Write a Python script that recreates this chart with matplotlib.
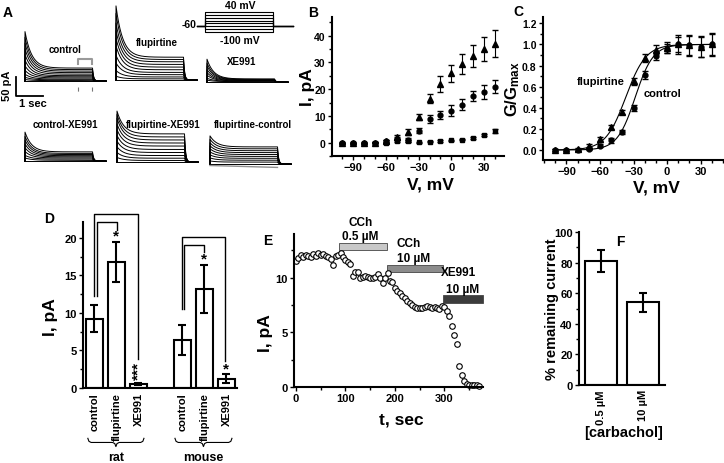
import matplotlib.pyplot as plt
import numpy as np
from matplotlib.ticker import MultipleLocator

plt.rcParams['font.family'] = ['Liberation Sans', 'DejaVu Sans']
plt.rcParams['font.weight'] = 'bold'
plt.rcParams['axes.labelweight'] = 'bold'
plt.rcParams['mathtext.fontset'] = 'custom'
plt.rcParams['mathtext.rm'] = 'Liberation Sans:bold'
plt.rcParams['mathtext.it'] = 'Liberation Sans:bold'
plt.rcParams['mathtext.default'] = 'rm'

# ---- A: current families, peak and steady-state amplitude of each sweep (pA)
ctl_peak = [0, 4, 10, 18, 28, 40, 55, 70, 85, 100, 115, 130]
ctl_ss = [0, 1, 3, 5, 8, 11, 14, 18, 22, 26, 30, 34]
flu_peak = [0, 10, 25, 45, 65, 90, 110, 130, 150, 175, 195]
flu_ss = [0, 3, 8, 14, 20, 27, 34, 41, 48, 54, 60]
xe_peak = [0, 5, 10, 18, 25, 33, 42, 50, 60]
xe_ss = [0, 1, 2, 3, 4, 5, 6, 7, 8]
ctlxe_peak = [0, 8, 15, 25, 35, 45, 55, 65, 76]
ctlxe_ss = [0, 2, 5, 8, 11, 14, 17, 20, 24]
fluxe_peak = [0, 12, 25, 40, 55, 70, 85, 100, 115, 125, 134]
fluxe_ss = [0, 4, 10, 17, 25, 33, 42, 50, 58, 66, 74]
fluctl_peak = [0, 8, 16, 24, 32, 40, 48, 56, 65, 74]
fluctl_ss = [0, 5, 10, 15, 20, 25, 30, 35, 40, 45]
step_dur = 2.5      # s
tau_inact = 0.25    # s
protocol_levels = [-100, -80, -60, -40, -20, 0, 20, 40]  # mV
holding = -60

# ---- B: I-V
volts = [-100, -90, -80, -70, -60, -50, -40, -30, -20, -10, 0, 10, 20, 30, 40]
iv_flu = [0, 0, 0, 0, 0.5, 2, 4, 9.5, 16.5, 22, 26, 29.5, 32.5, 35, 37]
iv_flu_err = [0.3, 0.3, 0.3, 0.3, 0.5, 0.8, 1, 1.2, 1.8, 3, 3.2, 3.8, 4.2, 4.5, 5]
iv_ctl = [-0.2, -0.2, -0.2, 0, 0.5, 1.5, 1.0, 4.5, 9, 10.5, 12, 14.2, 17.5, 19, 21]
iv_ctl_err = [0.2, 0.2, 0.2, 0.3, 0.5, 0.6, 0.8, 1, 1.5, 1.5, 2, 2, 2, 2.5, 2.5]
iv_xe = [-0.2, -0.2, -0.2, -0.1, 0, 0.5, 0.6, 0.2, 0.3, 0.6, 0.8, 1.1, 1.6, 2.8, 4.3]
iv_xe_err = [0.2, 0.2, 0.2, 0.2, 0.2, 0.3, 0.3, 0.2, 0.2, 0.2, 0.3, 0.3, 0.4, 0.5, 0.7]

# ---- C: conductance
g_flu = [0, 0, 0.005, 0.04, 0.10, 0.22, 0.36, 0.65, 0.87, 0.95, 0.97, 1.0, 0.99, 0.98, 1.0]
g_flu_err = [0.01, 0.01, 0.01, 0.015, 0.02, 0.02, 0.02, 0.03, 0.035, 0.04, 0.05, 0.07, 0.09, 0.1, 0.1]
g_ctl = [0, 0, 0, 0.01, 0.04, 0.09, 0.17, 0.40, 0.71, 0.89, 0.96, 1.0, 0.99, 0.98, 1.0]
g_ctl_err = [0.01, 0.01, 0.01, 0.01, 0.015, 0.02, 0.02, 0.03, 0.035, 0.04, 0.04, 0.087, 0.1, 0.095, 0.11]
vhalf_flu, k_flu = -37, 9
vhalf_ctl, k_ctl = -28.5, 8

# ---- D: bars
d_labels = ['control', 'flupirtine', 'XE991', 'control', 'flupirtine', 'XE991']
d_vals = [9.2, 16.8, 0.5, 6.4, 13.2, 1.2]
d_err = [1.8, 2.7, 0.1, 2.0, 3.2, 0.6]
d_pos = [0, 1, 2, 4, 5, 6]

# ---- E: time course
e_t = list(range(0, 375, 5))
e_i = [11.55, 11.8, 12.05, 11.9, 12.1, 12.0, 11.9, 12.2, 12.0, 12.3, 12.05, 12.2, 12.0, 11.9,
       11.75, 11.2, 12.0, 12.05, 12.3, 11.9, 11.6, 11.4, 11.3, 10.2, 10.5, 10.5, 10.0, 10.1,
       10.2, 10.1, 10.0, 9.95, 10.1, 10.3, 10.0, 9.5, 10.0, 10.4, 9.7, 9.6, 9.1, 8.8, 8.6,
       8.3, 8.1, 7.9, 7.7, 7.5, 7.35, 7.25, 7.2, 7.2, 7.3, 7.4, 7.3, 7.25, 7.35, 7.2, 7.15,
       7.4, 7.3, 7.0, 6.5, 5.6, 4.8, 3.9, 1.9, 1.1, 0.55, 0.3, 0.22, 0.2, 0.2, 0.15, 0.1]
drug_start = [87, 184, 298]
drug_end = [184, 298, 378]
drug_colors = ['#c8c8c8', '#8c8c8c', '#3c3c3c']

# ---- F
f_labels = ['0.5 \u00b5M', '10 \u00b5M']
f_vals = [81, 54]
f_err = [7, 6]

W, H = 724, 464
fig = plt.figure(figsize=(W / 100, H / 100), dpi=100)


def box(x0, y0, x1, y1):
    return fig.add_axes([x0 / W, 1 - y1 / H, (x1 - x0) / W, (y1 - y0) / H])


def ftext(x, y, s, **kw):
    fig.text(x / W, 1 - y / H, s, **kw)


def style(ax):
    for s in ['top', 'right']:
        ax.spines[s].set_visible(False)
    for s in ['left', 'bottom']:
        ax.spines[s].set_linewidth(1.5)
    ax.tick_params(which='major', direction='out', length=3, width=1, labelsize=8, pad=1.5)
    ax.tick_params(which='minor', direction='out', length=2, width=1)


# ---------------- A
PX_S, PX_PA = 27.0, 19.0 / 50


def family(x0, ybase, peaks, ss):
    ax = box(x0 - 0.05 * PX_S, ybase - 200 * PX_PA, x0 + 3.1 * PX_S, ybase + 35 * PX_PA)
    ax.set_xlim(-0.05, 3.1)
    ax.set_ylim(-35, 200)
    ax.axis('off')
    t1 = np.linspace(0, step_dur, 200)
    t2 = np.linspace(step_dur, 3.0, 40)
    for pk, s in zip(peaks, ss):
        i1 = s + (pk - s) * np.exp(-t1 / tau_inact)
        i2 = s * np.exp(-(t2 - step_dur) / 0.04)
        ax.plot(np.r_[-0.05, 0, t1, t2], np.r_[0, 0, i1, i2], color='k', lw=0.7)
    return ax


ax_c = family(25, 82, ctl_peak, ctl_ss)
family(116, 81, flu_peak, flu_ss)
family(207, 83, xe_peak, xe_ss)
family(25, 162, ctlxe_peak, ctlxe_ss)
family(117, 163, fluxe_peak, fluxe_ss)
ax_fc = family(210, 165, fluctl_peak, fluctl_ss)
ax_fc.plot([0, step_dur], [-4, -9], color='#909090', lw=1)

# grey analysis window + dashed markers
ax_c.plot([1.96, 1.96, 2.48, 2.48], [45, 58, 58, 45], color='#999999', lw=1.5, clip_on=False)
for tx in [1.96, 2.48]:
    ax_c.plot([tx, tx], [-16, -29], color='#777777', lw=0.8, ls='--', clip_on=False)
# scale bar
ax_c.plot([-0.33, -0.33, 0.67], [10.5, -39.5, -39.5], color='k', lw=1.3, clip_on=False)
ftext(7, 86, '50 pA', rotation=90, ha='center', va='center', fontsize=8)
ftext(33, 104, '1 sec', ha='center', va='center', fontsize=8)

# voltage protocol
ax_p = box(197, 13, 293, 33)
ax_p.set_xlim(-0.3, 3.26)
ax_p.set_ylim(-100, 40)
ax_p.axis('off')
for v in protocol_levels:
    ax_p.plot([-0.3, 0, 0, step_dur, step_dur, 3.26], [holding, holding, v, v, holding, holding],
              color='k', lw=0.8, clip_on=False)
ftext(189, 25, '-60', ha='center', va='center', fontsize=7.5)
ftext(240, 6, '40 mV', ha='center', va='center', fontsize=7.5)
ftext(240, 41, '-100 mV', ha='center', va='center', fontsize=7.5)

for x, y, s in [(65, 50, 'control'), (157, 43, 'flupirtine'), (242, 62, 'XE991'),
                (65, 125, 'control-XE991'), (163, 125, 'flupirtine-XE991'),
                (253, 125, 'flupirtine-control')]:
    ftext(x, y, s, ha='center', va='center', fontsize=7)

for x, y, s in [(8, 13, 'A'), (313, 13, 'B'), (518, 12, 'C'), (49, 219, 'D'),
                (268, 241, 'E'), (620, 242, 'F')]:
    ftext(x, y, s, ha='center', va='center', fontsize=10)

# ---------------- B
ax = box(332, 18, 504, 157)
style(ax)
ax.tick_params(axis='y', labelsize=7.5)
ax.errorbar(volts, iv_flu, yerr=iv_flu_err, fmt='^', color='k', ms=4, capsize=2, elinewidth=0.8)
ax.errorbar(volts, iv_ctl, yerr=iv_ctl_err, fmt='o', color='k', ms=3.5, capsize=2, elinewidth=0.8)
ax.errorbar(volts, iv_xe, yerr=iv_xe_err, fmt='s', color='k', ms=3.2, capsize=2, elinewidth=0.8)
ax.set_xlim(-109, 48)
ax.set_ylim(-5, 47)
ax.set_xticks([-90, -60, -30, 0, 30])
ax.set_yticks([0, 10, 20, 30, 40])
ax.xaxis.set_minor_locator(MultipleLocator(10))
ax.yaxis.set_minor_locator(MultipleLocator(5))
ax.set_xlabel('V, mV', fontsize=12.5)
ax.set_ylabel('I, pA', fontsize=12.5)
ax.xaxis.set_label_coords(0.57, -0.2)
ax.yaxis.set_label_coords(-0.14, 0.5)
ax.xaxis.label.set_va('center')
ax.yaxis.label.set(va='center', ha='center')

# ---------------- C
ax = box(543, 18, 723, 161)
style(ax)
ax.tick_params(axis='y', labelsize=7.5)
vfit = np.linspace(-100, 40, 300)
ax.plot(vfit, 1 / (1 + np.exp((vhalf_flu - vfit) / k_flu)), color='k', lw=0.8)
ax.plot(vfit, 1 / (1 + np.exp((vhalf_ctl - vfit) / k_ctl)), color='k', lw=0.8)
ax.errorbar(volts, g_flu, yerr=g_flu_err, fmt='^', color='k', ms=4, capsize=2, elinewidth=0.8)
ax.errorbar(volts, g_ctl, yerr=g_ctl_err, fmt='o', color='k', ms=3.5, capsize=2, elinewidth=0.8)
ax.set_xlim(-111, 50)
ax.set_ylim(-0.095, 1.26)
ax.set_xticks([-90, -60, -30, 0, 30])
ax.set_yticks([0, 0.2, 0.4, 0.6, 0.8, 1.0, 1.2])
ax.set_yticklabels(['0.0', '0.2', '0.4', '0.6', '0.8', '1.0', '1.2'])
ax.xaxis.set_minor_locator(MultipleLocator(10))
ax.yaxis.set_minor_locator(MultipleLocator(0.1))
ax.set_xlabel('V, mV', fontsize=12.5)
ax.set_ylabel('G/G$_{max}$', fontsize=12)
ax.xaxis.set_label_coords(0.63, -0.19)
ax.yaxis.set_label_coords(-0.168, 0.5)
ax.xaxis.label.set_va('center')
ax.yaxis.label.set(va='center', ha='center')
ax.text(-59, 0.655, 'flupirtine', ha='center', va='center', fontsize=8)
ax.text(-4, 0.54, 'control', ha='center', va='center', fontsize=8)

# ---------------- D
ax = box(83, 223, 237, 389)
style(ax)
ax.bar(d_pos, d_vals, width=0.8, color='white', edgecolor='k', lw=1.5, zorder=2)
ax.errorbar(d_pos, d_vals, yerr=d_err, fmt='none', ecolor='k', elinewidth=1.5, capsize=3,
            capthick=1.5, zorder=3)
ax.set_xlim(-0.52, 6.48)
ax.set_ylim(0, 22.1)
ax.set_yticks([0, 5, 10, 15, 20])
ax.yaxis.set_minor_locator(MultipleLocator(2.5))
ax.set_xticks(d_pos)
ax.set_xticklabels(d_labels, rotation=90, fontsize=8)
ax.tick_params(axis='x', length=0, pad=3)
ax.set_ylabel('I, pA', fontsize=12.5)
ax.yaxis.set_label_coords(-0.214, 0.43)
ax.yaxis.label.set(va='center', ha='center')
kw = dict(color='k', lw=1, clip_on=False)
# rat comparisons
ax.plot([-0.02, -0.02, 1.98, 1.98], [12.3, 23.1, 23.1, 3.9], **kw)
ax.plot([0.1, 0.1, 1.02, 1.02], [12.3, 22.1, 22.1, 21.1], **kw)
# mouse comparisons
ax.plot([3.98, 3.98, 5.93, 5.93], [10.5, 20.1, 20.1, 3.6], **kw)
ax.plot([4.05, 4.05, 4.98, 4.98], [10.5, 19.1, 19.1, 18.1], **kw)
ax.text(1, 20.3, '*', ha='center', va='center', fontsize=11)
ax.text(5, 17.3, '*', ha='center', va='center', fontsize=11)
ax.text(6, 2.6, '*', ha='center', va='center', fontsize=11)
ax.text(2, 2.4, '***', ha='center', va='center', fontsize=11, rotation=90)
# braces under groups
for a, b, name in [(-0.3, 2.25, 'rat'), (3.66, 6.25, 'mouse')]:
    m = (a + b) / 2
    ax.plot([a, a + 0.05, a + 0.15, m - 0.15, m - 0.05, m, m + 0.05, m + 0.15, b - 0.15, b - 0.05, b],
            [-6.7, -7.1, -7.25, -7.25, -7.4, -7.8, -7.4, -7.25, -7.25, -7.1, -6.7],
            color='k', lw=0.8, clip_on=False)
    ax.text(m, -9.2, name, ha='center', va='center', fontsize=9)

# ---------------- E
ax = box(294, 235, 483, 388)
style(ax)
ax.plot(e_t, e_i, 'o', mfc='white', mec='k', ms=4, mew=0.8, clip_on=False)
ax.set_xlim(-4, 378)
ax.set_ylim(0, 14)
ax.set_xticks([0, 100, 200, 300])
ax.set_yticks([0, 5, 10])
ax.xaxis.set_minor_locator(MultipleLocator(50))
ax.yaxis.set_minor_locator(MultipleLocator(2.5))
ax.set_xlabel('t, sec', fontsize=12.5)
ax.set_ylabel('I, pA', fontsize=12.5)
ax.xaxis.set_label_coords(0.57, -0.21)
ax.yaxis.set_label_coords(-0.153, 0.36)
ax.xaxis.label.set_va('center')
ax.yaxis.label.set(va='center', ha='center')
bar_y = [12.5, 10.5, 7.7]
for s, e, c, y in zip(drug_start, drug_end, drug_colors, bar_y):
    ax.barh(y + 0.35, e - s, left=s, height=0.7, color=c, edgecolor='#444444', lw=0.6,
            clip_on=False)
ax.text(130, 15.1, 'CCh', ha='center', va='center', fontsize=8.5)
ax.text(130, 13.8, '0.5 \u00b5M', ha='center', va='center', fontsize=8.5)
ax.text(227, 13.2, 'CCh', ha='center', va='center', fontsize=8.5)
ax.text(237, 11.8, '10 \u00b5M', ha='center', va='center', fontsize=8.5)
ax.text(328, 10.5, 'XE991', ha='center', va='center', fontsize=8.5)
ax.text(336, 9.0, '10 \u00b5M', ha='center', va='center', fontsize=8.5)

# ---------------- F
ax = box(579, 233, 665, 386)
style(ax)
ax.bar([0, 1], f_vals, width=0.76, color='white', edgecolor='k', lw=1.5, zorder=2)
ax.errorbar([0, 1], f_vals, yerr=f_err, fmt='none', ecolor='k', elinewidth=1.5, capsize=3,
            capthick=1.5, zorder=3)
ax.set_xlim(-0.52, 1.51)
ax.set_ylim(0, 100)
ax.set_yticks([0, 20, 40, 60, 80, 100])
ax.yaxis.set_minor_locator(MultipleLocator(10))
ax.set_xticks([0, 1])
ax.set_xticklabels(f_labels, rotation=90, fontsize=8)
ax.tick_params(axis='x', length=0, pad=3)
ax.set_ylabel('% remaining current', fontsize=10.5)
ax.set_xlabel('[carbachol]', fontsize=10.5)
ax.yaxis.set_label_coords(-0.31, 0.5)
ax.xaxis.set_label_coords(0.52, -0.31)
ax.xaxis.label.set_va('center')
ax.yaxis.label.set(va='center', ha='center')

fig.savefig('out.png', dpi=100)
